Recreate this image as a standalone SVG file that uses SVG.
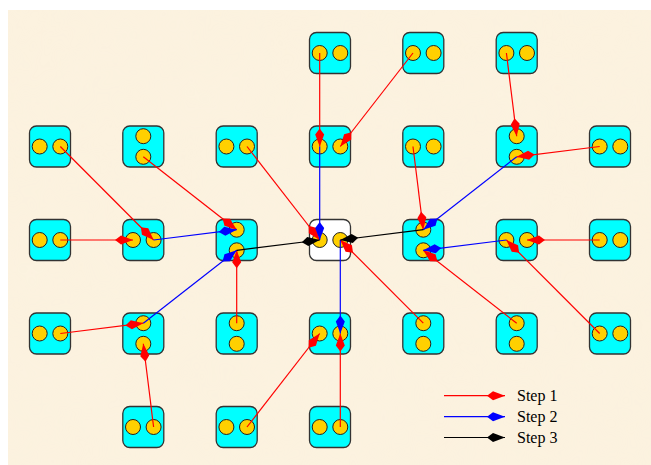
<svg xmlns="http://www.w3.org/2000/svg" width="651" height="465" viewBox="0 0 651 465">
<defs>
<style>
.nd{fill:#00FFFF;stroke:#333;stroke-width:1.3}
.nw{fill:#FFFFFF;stroke:#333;stroke-width:1.3}
.dot{fill:#FFD000;stroke:#222;stroke-width:1}
.r{stroke:#FF0000;stroke-width:1.2;fill:none;marker-end:url(#mr)}
.b{stroke:#0000FF;stroke-width:1.2;fill:none;marker-end:url(#mb)}
.k{stroke:#000000;stroke-width:1.2;fill:none;marker-end:url(#mk)}
.lg{font-family:"Liberation Serif","Times New Roman",serif;font-size:16px;fill:#000}
</style>
<marker id="mr" markerUnits="userSpaceOnUse" viewBox="-20 -6 21 12" refX="0" refY="0" markerWidth="21" markerHeight="12" orient="auto"><path d="M0,0 L-12,-4.5 L-18,0 L-12,4.5 Z" fill="#FF0000"/></marker>
<marker id="mb" markerUnits="userSpaceOnUse" viewBox="-20 -6 21 12" refX="0" refY="0" markerWidth="21" markerHeight="12" orient="auto"><path d="M0,0 L-12,-4.5 L-18,0 L-12,4.5 Z" fill="#0000FF"/></marker>
<marker id="mk" markerUnits="userSpaceOnUse" viewBox="-20 -6 21 12" refX="0" refY="0" markerWidth="21" markerHeight="12" orient="auto"><path d="M0,0 L-12,-4.5 L-18,0 L-12,4.5 Z" fill="#000000"/></marker>
<filter id="tex" x="0" y="0" width="100%" height="100%">
<feTurbulence type="fractalNoise" baseFrequency="0.015" numOctaves="3" seed="4" result="n"/>
<feColorMatrix in="n" type="matrix" values="0 0 0 0 0.95  0 0 0 0 0.89  0 0 0 0 0.76  0 0 0 0.5 -0.1"/>
</filter>
</defs>
<rect x="0" y="0" width="651" height="465" fill="#FFFFFF"/>
<rect x="8" y="10" width="643" height="455" fill="#FCF2DF"/>
<rect x="8" y="10" width="643" height="455" filter="url(#tex)" opacity="0.5"/>

<g id="nodes">
<g id="n_r1c4" transform="translate(330,53)"><rect class="nd" x="-20.5" y="-20.5" width="41" height="41" rx="7"/><circle class="dot" cx="-10.3" cy="0" r="7.5"/><circle class="dot" cx="10.3" cy="0" r="7.5"/></g>
<g id="n_r1c5" transform="translate(423.3,53)"><rect class="nd" x="-20.5" y="-20.5" width="41" height="41" rx="7"/><circle class="dot" cx="-10.3" cy="0" r="7.5"/><circle class="dot" cx="10.3" cy="0" r="7.5"/></g>
<g id="n_r1c6" transform="translate(516.7,53)"><rect class="nd" x="-20.5" y="-20.5" width="41" height="41" rx="7"/><circle class="dot" cx="-10.3" cy="0" r="7.5"/><circle class="dot" cx="10.3" cy="0" r="7.5"/></g>

<g id="n_r2c1" transform="translate(50,146.5)"><rect class="nd" x="-20.5" y="-20.5" width="41" height="41" rx="7"/><circle class="dot" cx="-10.3" cy="0" r="7.5"/><circle class="dot" cx="10.3" cy="0" r="7.5"/></g>
<g id="n_r2c2" transform="translate(143.3,146.5)"><rect class="nd" x="-20.5" y="-20.5" width="41" height="41" rx="7"/><circle class="dot" cx="0" cy="-10.3" r="7.5"/><circle class="dot" cx="0" cy="10.3" r="7.5"/></g>
<g id="n_r2c3" transform="translate(236.7,146.5)"><rect class="nd" x="-20.5" y="-20.5" width="41" height="41" rx="7"/><circle class="dot" cx="-10.3" cy="0" r="7.5"/><circle class="dot" cx="10.3" cy="0" r="7.5"/></g>
<g id="n_r2c4" transform="translate(330,146.5)"><rect class="nd" x="-20.5" y="-20.5" width="41" height="41" rx="7"/><circle class="dot" cx="-10.3" cy="0" r="7.5"/><circle class="dot" cx="10.3" cy="0" r="7.5"/></g>
<g id="n_r2c5" transform="translate(423.3,146.5)"><rect class="nd" x="-20.5" y="-20.5" width="41" height="41" rx="7"/><circle class="dot" cx="-10.3" cy="0" r="7.5"/><circle class="dot" cx="10.3" cy="0" r="7.5"/></g>
<g id="n_r2c6" transform="translate(516.7,146.5)"><rect class="nd" x="-20.5" y="-20.5" width="41" height="41" rx="7"/><circle class="dot" cx="0" cy="-10.3" r="7.5"/><circle class="dot" cx="0" cy="10.3" r="7.5"/></g>
<g id="n_r2c7" transform="translate(610,146.5)"><rect class="nd" x="-20.5" y="-20.5" width="41" height="41" rx="7"/><circle class="dot" cx="-10.3" cy="0" r="7.5"/><circle class="dot" cx="10.3" cy="0" r="7.5"/></g>

<g id="n_r3c1" transform="translate(50,240)"><rect class="nd" x="-20.5" y="-20.5" width="41" height="41" rx="7"/><circle class="dot" cx="-10.3" cy="0" r="7.5"/><circle class="dot" cx="10.3" cy="0" r="7.5"/></g>
<g id="n_r3c2" transform="translate(143.3,240)"><rect class="nd" x="-20.5" y="-20.5" width="41" height="41" rx="7"/><circle class="dot" cx="-10.3" cy="0" r="7.5"/><circle class="dot" cx="10.3" cy="0" r="7.5"/></g>
<g id="n_r3c3" transform="translate(236.7,240)"><rect class="nd" x="-20.5" y="-20.5" width="41" height="41" rx="7"/><circle class="dot" cx="0" cy="-10.3" r="7.5"/><circle class="dot" cx="0" cy="10.3" r="7.5"/></g>
<g id="n_center" transform="translate(330,240)"><rect class="nw" x="-20.5" y="-20.5" width="41" height="41" rx="7"/><circle class="dot" cx="-10.3" cy="0" r="7.5"/><circle class="dot" cx="10.3" cy="0" r="7.5"/></g>
<g id="n_r3c5" transform="translate(423.3,240)"><rect class="nd" x="-20.5" y="-20.5" width="41" height="41" rx="7"/><circle class="dot" cx="0" cy="-10.3" r="7.5"/><circle class="dot" cx="0" cy="10.3" r="7.5"/></g>
<g id="n_r3c6" transform="translate(516.7,240)"><rect class="nd" x="-20.5" y="-20.5" width="41" height="41" rx="7"/><circle class="dot" cx="-10.3" cy="0" r="7.5"/><circle class="dot" cx="10.3" cy="0" r="7.5"/></g>
<g id="n_r3c7" transform="translate(610,240)"><rect class="nd" x="-20.5" y="-20.5" width="41" height="41" rx="7"/><circle class="dot" cx="-10.3" cy="0" r="7.5"/><circle class="dot" cx="10.3" cy="0" r="7.5"/></g>

<g id="n_r4c1" transform="translate(50,333.5)"><rect class="nd" x="-20.5" y="-20.5" width="41" height="41" rx="7"/><circle class="dot" cx="-10.3" cy="0" r="7.5"/><circle class="dot" cx="10.3" cy="0" r="7.5"/></g>
<g id="n_r4c2" transform="translate(143.3,333.5)"><rect class="nd" x="-20.5" y="-20.5" width="41" height="41" rx="7"/><circle class="dot" cx="0" cy="-10.3" r="7.5"/><circle class="dot" cx="0" cy="10.3" r="7.5"/></g>
<g id="n_r4c3" transform="translate(236.7,333.5)"><rect class="nd" x="-20.5" y="-20.5" width="41" height="41" rx="7"/><circle class="dot" cx="0" cy="-10.3" r="7.5"/><circle class="dot" cx="0" cy="10.3" r="7.5"/></g>
<g id="n_r4c4" transform="translate(330,333.5)"><rect class="nd" x="-20.5" y="-20.5" width="41" height="41" rx="7"/><circle class="dot" cx="-10.3" cy="0" r="7.5"/><circle class="dot" cx="10.3" cy="0" r="7.5"/></g>
<g id="n_r4c5" transform="translate(423.3,333.5)"><rect class="nd" x="-20.5" y="-20.5" width="41" height="41" rx="7"/><circle class="dot" cx="0" cy="-10.3" r="7.5"/><circle class="dot" cx="0" cy="10.3" r="7.5"/></g>
<g id="n_r4c6" transform="translate(516.7,333.5)"><rect class="nd" x="-20.5" y="-20.5" width="41" height="41" rx="7"/><circle class="dot" cx="0" cy="-10.3" r="7.5"/><circle class="dot" cx="0" cy="10.3" r="7.5"/></g>
<g id="n_r4c7" transform="translate(610,333.5)"><rect class="nd" x="-20.5" y="-20.5" width="41" height="41" rx="7"/><circle class="dot" cx="-10.3" cy="0" r="7.5"/><circle class="dot" cx="10.3" cy="0" r="7.5"/></g>

<g id="n_r5c2" transform="translate(143.3,427)"><rect class="nd" x="-20.5" y="-20.5" width="41" height="41" rx="7"/><circle class="dot" cx="-10.3" cy="0" r="7.5"/><circle class="dot" cx="10.3" cy="0" r="7.5"/></g>
<g id="n_r5c3" transform="translate(236.7,427)"><rect class="nd" x="-20.5" y="-20.5" width="41" height="41" rx="7"/><circle class="dot" cx="-10.3" cy="0" r="7.5"/><circle class="dot" cx="10.3" cy="0" r="7.5"/></g>
<g id="n_r5c4" transform="translate(330,427)"><rect class="nd" x="-20.5" y="-20.5" width="41" height="41" rx="7"/><circle class="dot" cx="-10.3" cy="0" r="7.5"/><circle class="dot" cx="10.3" cy="0" r="7.5"/></g>
</g>

<g id="connectors">
<line class="r" x1="319.7" y1="53" x2="319.7" y2="146.5"/>
<line class="r" x1="413" y1="53" x2="340.3" y2="146.5"/>
<line class="r" x1="506.4" y1="53" x2="516.7" y2="136.2"/>
<line class="r" x1="599.7" y1="146.5" x2="516.7" y2="156.8"/>
<line class="r" x1="60.3" y1="146.5" x2="153.6" y2="240"/>
<line class="r" x1="143.3" y1="156.8" x2="236.7" y2="229.7"/>
<line class="r" x1="247" y1="146.5" x2="319.7" y2="240"/>
<line class="r" x1="413" y1="146.5" x2="423.3" y2="229.7"/>
<line class="r" x1="60.3" y1="240" x2="133" y2="240"/>
<line class="r" x1="599.7" y1="240" x2="527" y2="240"/>
<line class="r" x1="236.7" y1="323.2" x2="236.7" y2="250.3"/>
<line class="r" x1="423.3" y1="323.2" x2="340.3" y2="240"/>
<line class="r" x1="516.7" y1="323.2" x2="423.3" y2="250.3"/>
<line class="r" x1="599.7" y1="333.5" x2="506.4" y2="240"/>
<line class="r" x1="60.3" y1="333.5" x2="143.3" y2="323.2"/>
<line class="r" x1="153.6" y1="427" x2="143.3" y2="343.8"/>
<line class="r" x1="247" y1="427" x2="319.7" y2="333.5"/>
<line class="r" x1="340.3" y1="427" x2="340.3" y2="333.5"/>

<line class="b" x1="153.6" y1="240" x2="236.7" y2="229.7"/>
<line class="b" x1="143.3" y1="323.2" x2="236.7" y2="250.3"/>
<line class="b" x1="319.7" y1="146.5" x2="319.7" y2="240"/>
<line class="b" x1="340.3" y1="240" x2="340.3" y2="333.5"/>
<line class="b" x1="516.7" y1="156.8" x2="423.3" y2="229.7"/>
<line class="b" x1="506.4" y1="240" x2="423.3" y2="250.3"/>

<line class="k" x1="236.7" y1="250.3" x2="319.7" y2="240"/>
<line class="k" x1="423.3" y1="229.7" x2="340.3" y2="240"/>
</g>

<g id="legend">
<line class="r" x1="444" y1="395.7" x2="505" y2="395.7"/>
<line class="b" x1="444" y1="416.7" x2="505" y2="416.7"/>
<line class="k" x1="444" y1="437.5" x2="505" y2="437.5"/>
<text class="lg" x="517" y="400.7">Step 1</text>
<text class="lg" x="517" y="421.7">Step 2</text>
<text class="lg" x="517" y="442.5">Step 3</text>
</g>
</svg>
